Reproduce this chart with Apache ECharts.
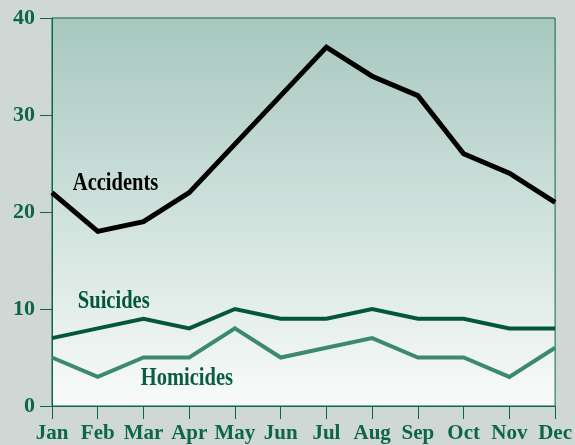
<!DOCTYPE html>
<html>
<head>
<meta charset="utf-8">
<script src="https://cdn.jsdelivr.net/npm/echarts@6/dist/echarts.min.js"></script>
<style>
  html, body { margin: 0; padding: 0; background: #cfd8d5; }
  #chart { width: 575px; height: 445px; }
</style>
</head>
<body>
<div id="chart"></div>
<script>
// months and yearly pattern of deaths
const months = ['Jan', 'Feb', 'Mar', 'Apr', 'May', 'Jun', 'Jul', 'Aug', 'Sep', 'Oct', 'Nov', 'Dec'];
const accidents = [22, 18, 19, 22, 27, 32, 37, 34, 32, 26, 24, 21];
const suicides = [7, 8, 9, 8, 10, 9, 9, 10, 9, 9, 8, 8];
const homicides = [5, 3, 5, 5, 8, 5, 6, 7, 5, 5, 3, 6];
const yTicks = [0, 10, 20, 30, 40];

const FONT = '"Liberation Serif", "Times New Roman", serif';
const AXIS_GREEN = '#0d6647';

const chart = echarts.init(document.getElementById('chart'));

const option = {
    backgroundColor: '#cfd8d5',
    animation: false,
    grid: {
        left: 52, right: 14, top: 18, bottom: 39,
        show: true,
        borderColor: AXIS_GREEN,
        borderWidth: 1,
        backgroundColor: new echarts.graphic.LinearGradient(0, 0, 0, 1, [
            { offset: 0, color: '#a7c8bf' },
            { offset: 0.5, color: '#cfe1dc' },
            { offset: 1, color: '#f9fbfa' }
        ])
    },
    xAxis: {
        type: 'category',
        data: months,
        boundaryGap: false,
        axisLine: { lineStyle: { color: AXIS_GREEN, width: 1 } },
        axisTick: { show: true, inside: false, length: 13, alignWithLabel: true, lineStyle: { color: AXIS_GREEN } },
        axisLabel: {
            color: AXIS_GREEN, fontFamily: FONT, fontWeight: 'bold', fontSize: 21,
            margin: 17, interval: 0
        },
        splitLine: { show: false }
    },
    yAxis: {
        type: 'value',
        min: yTicks[0],
        max: yTicks[yTicks.length - 1],
        interval: 10,
        axisLine: { show: true, lineStyle: { color: AXIS_GREEN, width: 1 } },
        axisTick: { show: true, length: 12, lineStyle: { color: AXIS_GREEN } },
        axisLabel: {
            color: AXIS_GREEN, fontFamily: FONT, fontWeight: 'bold', fontSize: 22,
            margin: 17
        },
        splitLine: { show: false }
    },
    series: [
        {
            name: 'Homicides', type: 'line', data: homicides, symbol: 'none',
            lineStyle: { color: '#3b8a70', width: 4, join: 'miter' }
        },
        {
            name: 'Suicides', type: 'line', data: suicides, symbol: 'none',
            lineStyle: { color: '#04573a', width: 4, join: 'miter' }
        },
        {
            name: 'Accidents', type: 'line', data: accidents, symbol: 'none',
            lineStyle: { color: '#000000', width: 5, join: 'miter' }
        }
    ]
};
chart.setOption(option);

// series labels, placed in data coordinates (fractional month index, value)
const seriesLabels = [
    { text: 'Accidents', at: [1.39, 22.9], color: '#000000' },
    { text: 'Suicides', at: [1.35, 10.8], color: '#04573a' },
    { text: 'Homicides', at: [2.95, 2.8], color: '#0a5e40' }
];
function toPixel(pt) {
    const a = chart.convertToPixel({ gridIndex: 0 }, [0, pt[1]]);
    const b = chart.convertToPixel({ gridIndex: 0 }, [months.length - 1, pt[1]]);
    return [a[0] + (b[0] - a[0]) * pt[0] / (months.length - 1), a[1]];
}
chart.setOption({
    graphic: seriesLabels.map(l => {
        const p = toPixel(l.at);
        return {
            type: 'text', x: p[0], y: p[1], scaleX: 0.82,
            style: {
                text: l.text, fill: l.color, font: 'bold 25px ' + FONT,
                align: 'center', verticalAlign: 'middle'
            }
        };
    })
});
</script>
</body>
</html>
